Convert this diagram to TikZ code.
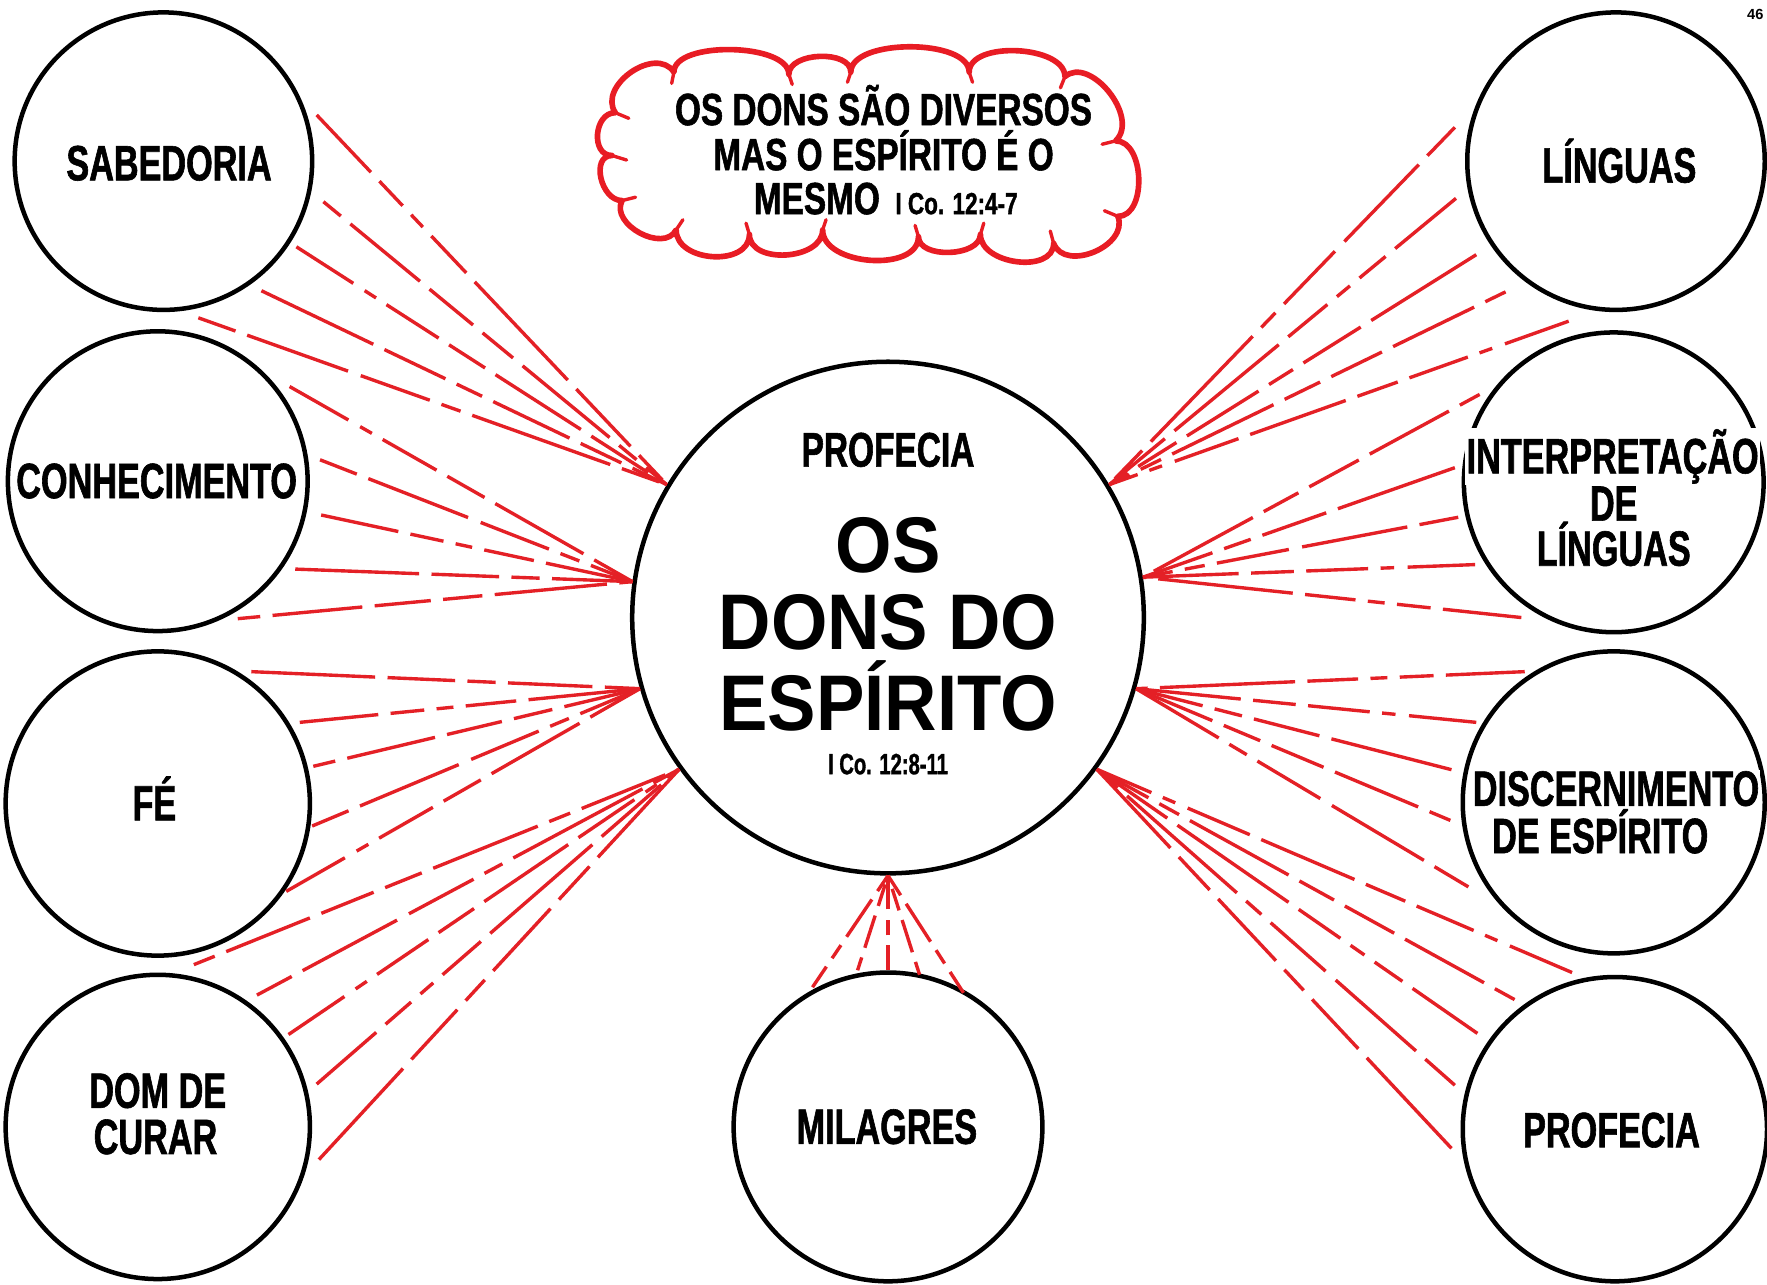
\documentclass[tikz,border=0pt]{standalone}
\usepackage{fontspec}
\newfontfamily\cnd[FakeStretch=0.69,FakeBold=1.2]{Liberation Sans}
\newfontfamily\cndb[FakeStretch=0.74,FakeBold=1.2]{Liberation Sans}
\newfontfamily\wde[FakeStretch=0.92]{Liberation Sans}
\newfontfamily\pagef{Liberation Sans}
\definecolor{rayred}{RGB}{228,32,38}
\definecolor{cloudred}{RGB}{232,28,36}
\begin{document}
\begin{tikzpicture}[x=1pt,y=-1pt,
  gift/.style={circle, draw=black, line width=4pt, minimum size=#1, inner sep=0pt},
  lbl/.style={font=\cnd\bfseries\fontsize{44}{48}\selectfont, inner sep=1pt},
  lblw/.style={lbl, fill=white},
  cl/.style={font=\cndb\bfseries\fontsize{40}{44}\selectfont, inner sep=0pt},
  big/.style={font=\wde\bfseries\fontsize{70}{74}\selectfont, inner sep=0pt},
  ray/.style={draw=rayred, line width=3pt},
  rA/.style={dash pattern=on 70pt off 11pt on 30pt off 11pt on 15pt off 11pt on 45pt off 11pt on 120pt off 11pt},
  rB/.style={dash pattern=on 20pt off 11pt on 80pt off 11pt on 50pt off 11pt on 35pt off 11pt on 100pt off 11pt},
  rC/.style={dash pattern=on 60pt off 12pt on 12pt off 11pt on 55pt off 11pt on 38pt off 11pt on 90pt off 11pt},
  rD/.style={dash pattern=on 110pt off 11pt on 60pt off 11pt on 25pt off 11pt on 75pt off 11pt on 40pt off 11pt},
  rE/.style={dash pattern=on 35pt off 11pt on 95pt off 12pt on 65pt off 11pt on 18pt off 11pt on 130pt off 11pt},
  rM/.style={dash pattern=on 22pt off 9pt on 14pt off 9pt on 40pt off 9pt},
  rN/.style={dash pattern=on 12pt off 9pt on 30pt off 9pt on 20pt off 9pt},
  cloudline/.style={draw=cloudred, line width=5pt, line join=round},
  thorn/.style={draw=cloudred, line width=3pt, line cap=round}
]
\useasboundingbox (0,0) rectangle (1568,1140);
\fill[white] (0,0) rectangle (1568,1140);

% circles
\node[gift=264pt] (sab) at (145,143) {};
\node[gift=266pt] (con) at (140,427) {};
\node[gift=270pt] (fe) at (140,713) {};
\node[gift=270pt] (dom) at (140,1000) {};
\node[gift=274pt] (mil) at (788,1000) {};
\node[gift=264pt] (lin) at (1434,143) {};
\node[gift=266pt] (int) at (1432,428) {};
\node[gift=268pt] (dis) at (1432,712) {};
\node[gift=270pt] (pro) at (1433,1002) {};
\node[gift=454pt] (C) at (788,548) {};

% labels
\node[lbl, anchor=base] (sabT) at (150,160) {SABEDORIA};
\node[lblw, anchor=base] (conT) at (139,442) {CONHECIMENTO};
\node[lbl, anchor=base] (feT) at (137,728) {FÉ};
\node[lbl, anchor=base] (domT1) at (140,983) {DOM DE};
\node[lbl, anchor=base] (domT2) at (138,1024) {CURAR};
\node[lbl, anchor=base] (milT) at (787,1015) {MILAGRES};
\node[lbl, anchor=base] (linT) at (1437,162) {LÍNGUAS};
\node[lblw, anchor=base] (intT1) at (1431,420) {INTERPRETAÇÃO};
\node[lbl, anchor=base] (intT2) at (1432,462) {DE};
\node[lbl, anchor=base] (intT3) at (1432,502) {LÍNGUAS};
\node[lblw, anchor=base] (disT1) at (1434,715) {DISCERNIMENTO};
\node[lbl, anchor=base] (disT2) at (1420,757) {DE ESPÍRITO};
\node[lbl, anchor=base] (proT) at (1430,1018) {PROFECIA};

% centre text
\node[lbl, anchor=base, font=\cnd\bfseries\fontsize{43}{46}\selectfont] (cProf) at (788,414) {PROFECIA};
\node[big, anchor=base] (cOS) at (788,508) {OS};
\node[big, anchor=base] (cDons) at (788,576) {DONS DO};
\node[big, anchor=base] (cEsp) at (788,648) {ESPÍRITO};
\node[lbl, anchor=base, font=\cnd\bfseries\fontsize{26}{30}\selectfont] (cRef) at (788,687) {I Co. 12:8-11};

% page number
\node[anchor=base east, inner sep=0pt, font=\pagef\bfseries\fontsize{13}{15}\selectfont] (pg) at (1565,17) {46};

% cloud
\draw[cloudline] (546,100)
  .. controls (530,76) and (582,40) .. (598,64)
  .. controls (598,36) and (700,38) .. (700,66)
  .. controls (700,46) and (755,44) .. (755,64)
  .. controls (755,34) and (860,34) .. (860,64)
  .. controls (860,36) and (945,40) .. (945,68)
  .. controls (967,49) and (1012,104) .. (990,125)
  .. controls (1016,125) and (1018,192) .. (992,192)
  .. controls (1002,218) and (945,242) .. (935,216)
  .. controls (935,243) and (870,235) .. (870,208)
  .. controls (870,228) and (815,230) .. (815,210)
  .. controls (815,242) and (730,236) .. (730,204)
  .. controls (730,231) and (665,235) .. (665,208)
  .. controls (665,237) and (600,233) .. (600,204)
  .. controls (589,225) and (541,199) .. (552,178)
  .. controls (533,178) and (524,138) .. (543,138)
  .. controls (524,138) and (527,100) .. (546,100) -- cycle;
\draw[thorn] (598,64) -- (596,74);
\draw[thorn] (700,66) -- (703,75);
\draw[thorn] (755,64) -- (752,73);
\draw[thorn] (860,64) -- (863,73);
\draw[thorn] (945,68) -- (941,78);
\draw[thorn] (990,125) -- (978,128);
\draw[thorn] (992,192) -- (980,187);
\draw[thorn] (935,216) -- (932,205);
\draw[thorn] (870,208) -- (873,198);
\draw[thorn] (815,210) -- (812,200);
\draw[thorn] (730,204) -- (733,195);
\draw[thorn] (665,208) -- (662,198);
\draw[thorn] (600,204) -- (606,195);
\draw[thorn] (552,178) -- (564,175);
\draw[thorn] (543,138) -- (556,142);
\draw[thorn] (546,100) -- (558,105);

\node[cl, anchor=base] (k1) at (784,111) {OS DONS SÃO DIVERSOS};
\node[cl, anchor=base] (k2) at (784,151) {MAS O ESPÍRITO É O};
\node[cl, anchor=base] (k3) at (786,190) {MESMO {\fontsize{27}{30}\selectfont\ I Co. 12:4-7}};

% ray end points
\coordinate (l1a) at (281,102); \coordinate (l1b) at (287,179); \coordinate (l1c) at (263,219);
\coordinate (l1d) at (232,258); \coordinate (l1e) at (176,282);
\coordinate (l2a) at (257,343); \coordinate (l2b) at (284,408); \coordinate (l2c) at (285,457);
\coordinate (l2d) at (262,505); \coordinate (l2e) at (211,549);
\coordinate (l3a) at (223,596); \coordinate (l3b) at (266,641); \coordinate (l3c) at (278,680);
\coordinate (l3d) at (277,733); \coordinate (l3e) at (254,791);
\coordinate (l4a) at (172,856); \coordinate (l4b) at (228,883); \coordinate (l4c) at (256,918);
\coordinate (l4d) at (281,962); \coordinate (l4e) at (283,1029);
\coordinate (r1a) at (1291,113); \coordinate (r1b) at (1292,176); \coordinate (r1c) at (1310,226);
\coordinate (r1d) at (1336,259); \coordinate (r1e) at (1392,285);
\coordinate (r2a) at (1313,350); \coordinate (r2b) at (1291,415); \coordinate (r2c) at (1294,459);
\coordinate (r2d) at (1309,501); \coordinate (r2e) at (1350,548);
\coordinate (r3a) at (1353,596); \coordinate (r3b) at (1310,641); \coordinate (r3c) at (1288,683);
\coordinate (r3d) at (1287,728); \coordinate (r3e) at (1303,787);
\coordinate (r4a) at (1395,863); \coordinate (r4b) at (1344,887); \coordinate (r4c) at (1311,917);
\coordinate (r4d) at (1291,963); \coordinate (r4e) at (1288,1019);
\coordinate (ma) at (721,876); \coordinate (mb) at (761,861); \coordinate (mc) at (788,861);
\coordinate (md) at (816,865); \coordinate (me) at (855,881);

% fans
\draw[ray,rA] (l1a) -- (C.149); \draw[ray,rB] (l1b) -- (C.149); \draw[ray,rC] (l1c) -- (C.149);
\draw[ray,rD] (l1d) -- (C.149); \draw[ray,rE] (l1e) -- (C.149);
\draw[ray,rC] (l2a) -- (C.172); \draw[ray,rE] (l2b) -- (C.172); \draw[ray,rA] (l2c) -- (C.172);
\draw[ray,rD] (l2d) -- (C.172); \draw[ray,rB] (l2e) -- (C.172);
\draw[ray,rD] (l3a) -- (C.196); \draw[ray,rA] (l3b) -- (C.196); \draw[ray,rB] (l3c) -- (C.196);
\draw[ray,rE] (l3d) -- (C.196); \draw[ray,rC] (l3e) -- (C.196);
\draw[ray,rB] (l4a) -- (C.216); \draw[ray,rE] (l4b) -- (C.216); \draw[ray,rC] (l4c) -- (C.216);
\draw[ray,rA] (l4d) -- (C.216); \draw[ray,rD] (l4e) -- (C.216);
\draw[ray,rE] (r1a) -- (C.31); \draw[ray,rA] (r1b) -- (C.31); \draw[ray,rD] (r1c) -- (C.31);
\draw[ray,rB] (r1d) -- (C.31); \draw[ray,rC] (r1e) -- (C.31);
\draw[ray,rB] (r2a) -- (C.9); \draw[ray,rD] (r2b) -- (C.9); \draw[ray,rE] (r2c) -- (C.9);
\draw[ray,rC] (r2d) -- (C.9); \draw[ray,rA] (r2e) -- (C.9);
\draw[ray,rA] (r3a) -- (C.-16); \draw[ray,rC] (r3b) -- (C.-16); \draw[ray,rD] (r3c) -- (C.-16);
\draw[ray,rB] (r3d) -- (C.-16); \draw[ray,rE] (r3e) -- (C.-16);
\draw[ray,rC] (r4a) -- (C.-36); \draw[ray,rB] (r4b) -- (C.-36); \draw[ray,rA] (r4c) -- (C.-36);
\draw[ray,rE] (r4d) -- (C.-36); \draw[ray,rD] (r4e) -- (C.-36);
\draw[ray,rM] (ma) -- (C.-90); \draw[ray,rN] (mb) -- (C.-90); \draw[ray,rM] (mc) -- (C.-90);
\draw[ray,rN] (md) -- (C.-90); \draw[ray,rM] (me) -- (C.-90);
\end{tikzpicture}
\end{document}
